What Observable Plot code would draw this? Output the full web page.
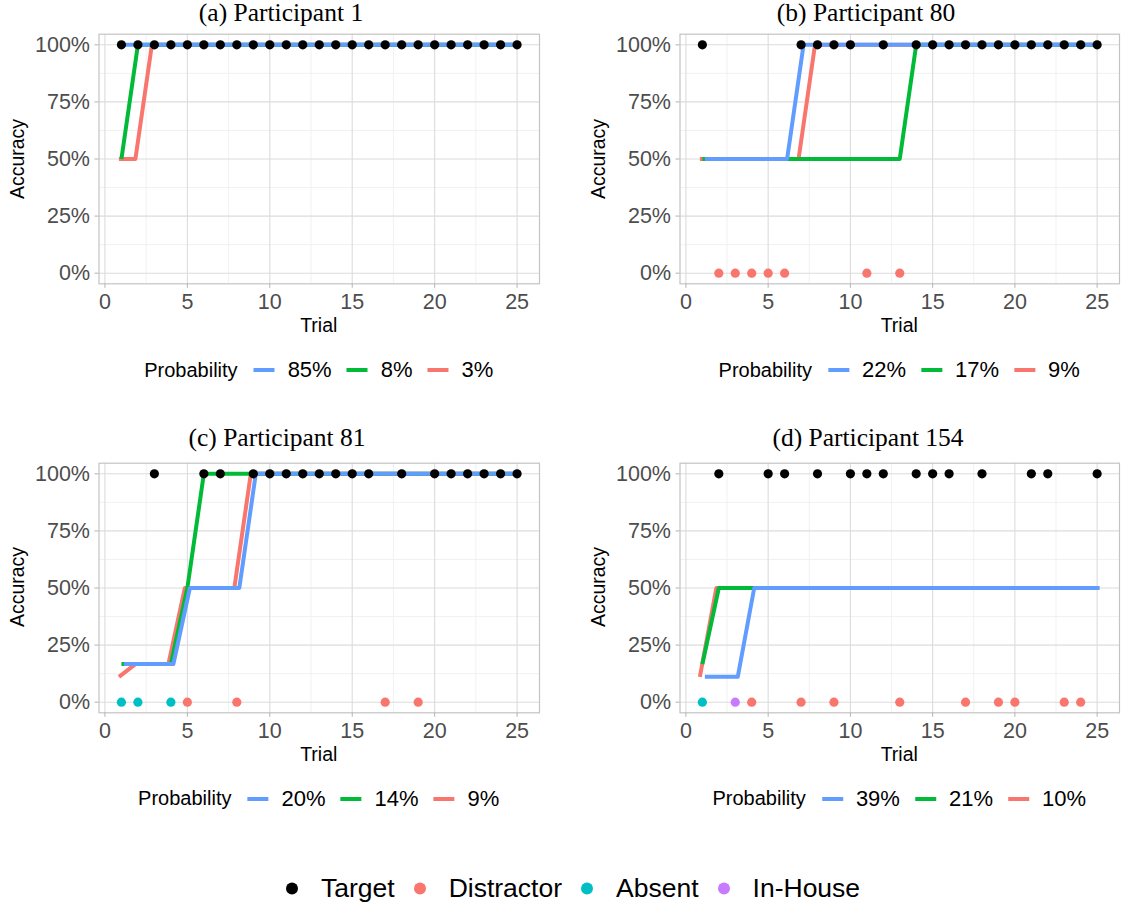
<!DOCTYPE html>
<html>
<head>
<meta charset="utf-8">
<script src="https://cdn.jsdelivr.net/npm/d3@7"></script>
<script src="https://cdn.jsdelivr.net/npm/@observablehq/plot@0.6"></script>
<style>
  body { margin: 0; background: #fff; overflow: hidden; }
  #root { position: relative; width: 1123px; height: 907px; font-family: "Liberation Sans", Arial, sans-serif; color: #000; }
  .abs { position: absolute; white-space: nowrap; }
  .title { font-family: "Liberation Serif", "Times New Roman", serif; font-size: 25.5px; line-height: 1; transform: translateX(-50%); }
  .axlab { font-size: 19.5px; transform: translate(-50%, -50%); }
  .axlab.rot { transform: translate(-50%, -50%) rotate(-90deg); }
  .legend { display: flex; align-items: center; transform: translate(-50%, -50%); }
  .legend .ltitle { font-size: 20px; margin-right: 16px; }
  .legend .sw { width: 21px; height: 4px; margin-right: 13px; }
  .legend .lab { font-size: 22px; margin-right: 15px; }
  .legend .lab:last-child { margin-right: 0; }
  .blegend { display: flex; align-items: center; transform: translateY(-50%); }
  .blegend .dot { width: 12px; height: 12px; border-radius: 50%; margin-right: 23px; }
  .blegend .lab { font-size: 26.5px; margin-right: 19px; }
  .blegend .lab:last-child { margin-right: 0; }
  svg { position: absolute; }
</style>
</head>
<body>
<div id="root"></div>
<script>
// ---------- shared scales / ticks ----------
const trials = [1,2,3,4,5,6,7,8,9,10,11,12,13,14,15,16,17,18,19,20,21,22,23,24,25];
const xTicks = [0, 5, 10, 15, 20, 25];
const xMinor = [2.5, 7.5, 12.5, 17.5, 22.5];
const yTicks = [0, 0.25, 0.5, 0.75, 1];
const yMinor = [0.125, 0.375, 0.625, 0.875];
const seriesColors = ["#619CFF", "#00BA38", "#F8766D"];   // blue, green, red
const seriesDx = [2.5, 0, -2.5];
const outcomeCodes = ["T", "D", "A", "I"];
const outcomeNames = ["Target", "Distractor", "Absent", "In-House"];
const outcomeColors = ["#000000", "#F8766D", "#00BFC4", "#C77CFF"];

// ---------- (a) Participant 1 ----------
const titleA = "(a) Participant 1";
const probsA = ["85%", "8%", "3%"];
const blueA  = [1,1,1,1,1,1,1,1,1,1,1,1,1,1,1,1,1,1,1,1,1,1,1,1,1];
const greenA = [0.5,1,1,1,1,1,1,1,1,1,1,1,1,1,1,1,1,1,1,1,1,1,1,1,1];
const redA   = [0.5,0.5,1,1,1,1,1,1,1,1,1,1,1,1,1,1,1,1,1,1,1,1,1,1,1];
const outcomesA = ["T","T","T","T","T","T","T","T","T","T","T","T","T","T","T","T","T","T","T","T","T","T","T","T","T"];

// ---------- (b) Participant 80 ----------
const titleB = "(b) Participant 80";
const probsB = ["22%", "17%", "9%"];
const blueB  = [0.5,0.5,0.5,0.5,0.5,0.5,1,1,1,1,1,1,1,1,1,1,1,1,1,1,1,1,1,1,1];
const greenB = [0.5,0.5,0.5,0.5,0.5,0.5,0.5,0.5,0.5,0.5,0.5,0.5,0.5,1,1,1,1,1,1,1,1,1,1,1,1];
const redB   = [0.5,0.5,0.5,0.5,0.5,0.5,0.5,1,1,1,1,1,1,1,1,1,1,1,1,1,1,1,1,1,1];
const outcomesB = ["T","D","D","D","D","D","T","T","T","T","D","T","D","T","T","T","T","T","T","T","T","T","T","T","T"];

// ---------- (c) Participant 81 ----------
const titleC = "(c) Participant 81";
const probsC = ["20%", "14%", "9%"];
const blueC  = [0.1667,0.1667,0.1667,0.1667,0.5,0.5,0.5,0.5,1,1,1,1,1,1,1,1,1,1,1,1,1,1,1,1,1];
const greenC = [0.1667,0.1667,0.1667,0.1667,0.5,1,1,1,1,1,1,1,1,1,1,1,1,1,1,1,1,1,1,1,1];
const redC   = [0.1111,0.1667,0.1667,0.1667,0.5,0.5,0.5,0.5,1,1,1,1,1,1,1,1,1,1,1,1,1,1,1,1,1];
const outcomesC = ["A","A","T","A","D","T","T","D","T","T","T","T","T","T","T","T","D","T","D","T","T","T","T","T","T"];

// ---------- (d) Participant 154 ----------
const titleD = "(d) Participant 154";
const probsD = ["39%", "21%", "10%"];
const blueD  = [0.1111,0.1111,0.1111,0.5,0.5,0.5,0.5,0.5,0.5,0.5,0.5,0.5,0.5,0.5,0.5,0.5,0.5,0.5,0.5,0.5,0.5,0.5,0.5,0.5,0.5];
const greenD = [0.1667,0.5,0.5,0.5,0.5,0.5,0.5,0.5,0.5,0.5,0.5,0.5,0.5,0.5,0.5,0.5,0.5,0.5,0.5,0.5,0.5,0.5,0.5,0.5,0.5];
const redD   = [0.1111,0.5,0.5,0.5,0.5,0.5,0.5,0.5,0.5,0.5,0.5,0.5,0.5,0.5,0.5,0.5,0.5,0.5,0.5,0.5,0.5,0.5,0.5,0.5,0.5];
const outcomesD = ["A","T","I","D","T","T","D","T","D","T","T","T","D","T","T","T","D","T","D","D","T","T","D","D","T"];

const root = document.getElementById("root");

function addDiv(cls, text, left, top, extraStyle) {
  const d = document.createElement("div");
  d.className = "abs " + cls;
  if (text != null) d.textContent = text;
  d.style.left = left + "px";
  d.style.top = top + "px";
  if (extraStyle) Object.assign(d.style, extraStyle);
  root.appendChild(d);
  return d;
}

function drawPanel(title, probs, series, outcomes, left, top, width, marginRight, titleX, titleTop) {
  const marginLeft = 98.5, marginTop = 33.7, height = 345, marginBottom = 61.7;
  const marks = [
    Plot.gridX(xMinor, {stroke: "#ededed", strokeOpacity: 1, strokeWidth: 0.8}),
    Plot.gridY(yMinor, {stroke: "#ededed", strokeOpacity: 1, strokeWidth: 0.8}),
    Plot.gridX(xTicks, {stroke: "#dcdcdc", strokeOpacity: 1, strokeWidth: 1.1}),
    Plot.gridY(yTicks, {stroke: "#dcdcdc", strokeOpacity: 1, strokeWidth: 1.1}),
    Plot.frame({stroke: "#c4c4c4", strokeWidth: 1.2}),
    Plot.axisX(xTicks, {tickSize: 4.5, tickPadding: 5.5, stroke: "#b3b3b3", fill: "#4d4d4d", fontSize: 21.5, label: null}),
    Plot.axisY(yTicks, {tickSize: 4, tickPadding: 5, stroke: "#b3b3b3", fill: "#4d4d4d", fontSize: 21.5, label: null, tickFormat: d3.format(".0%")})
  ];
  // draw red, then green, then blue on top
  for (const i of [2, 1, 0]) {
    const data = trials.map((t, j) => ({trial: t, acc: series[i][j]}));
    marks.push(Plot.line(data, {x: "trial", y: "acc", stroke: seriesColors[i], strokeWidth: 4,
      dx: seriesDx[i], strokeLinejoin: "round", strokeLinecap: "butt"}));
  }
  const points = trials.map((t, j) => {
    const name = outcomeNames[outcomeCodes.indexOf(outcomes[j])];
    return {trial: t, outcome: name, acc: name === "Target" ? 1 : 0};
  });
  marks.push(Plot.dot(points, {x: "trial", y: "acc", fill: "outcome", r: 4.6}));

  const svg = Plot.plot({
    width, height, marginTop, marginBottom, marginLeft, marginRight,
    x: {domain: [-0.36, 26.36]},
    y: {domain: [-0.0465, 1.0465]},
    color: {domain: outcomeNames, range: outcomeColors},
    style: {fontFamily: "'Liberation Sans', Arial, sans-serif", fontSize: "21.5px", background: "transparent", overflow: "visible"},
    marks
  });
  svg.style.left = left + "px";
  svg.style.top = top + "px";
  root.appendChild(svg);

  const plotCx = left + (marginLeft + (width - marginRight)) / 2;
  const plotCy = top + (marginTop + (height - marginBottom)) / 2;
  addDiv("title", title, titleX, titleTop);
  addDiv("axlab rot", "Accuracy", left + 17, plotCy);
  addDiv("axlab", "Trial", plotCx, top + 325);

  const lg = addDiv("legend", null, plotCx, top + 370);
  const lt = document.createElement("span"); lt.className = "ltitle"; lt.textContent = "Probability"; lg.appendChild(lt);
  probs.forEach((p, i) => {
    const sw = document.createElement("span"); sw.className = "sw"; sw.style.background = seriesColors[i]; lg.appendChild(sw);
    const lb = document.createElement("span"); lb.className = "lab"; lb.textContent = p; lg.appendChild(lb);
  });
}

drawPanel(titleA, probsA, [blueA, greenA, redA], outcomesA, 0, 0, 560, 21, 281, 0);
drawPanel(titleB, probsB, [blueB, greenB, redB], outcomesB, 581, 0, 542, 4, 866, 0);
drawPanel(titleC, probsC, [blueC, greenC, redC], outcomesC, 0, 428.5, 560, 21, 277, 425);
drawPanel(titleD, probsD, [blueD, greenD, redD], outcomesD, 581, 428.5, 542, 4, 868, 425);

// bottom legend
const bl = addDiv("blegend", null, 286, 888);
outcomeNames.forEach((n, i) => {
  const d = document.createElement("span"); d.className = "dot"; d.style.background = outcomeColors[i]; bl.appendChild(d);
  const l = document.createElement("span"); l.className = "lab"; l.textContent = n; bl.appendChild(l);
});
</script>
</body>
</html>
